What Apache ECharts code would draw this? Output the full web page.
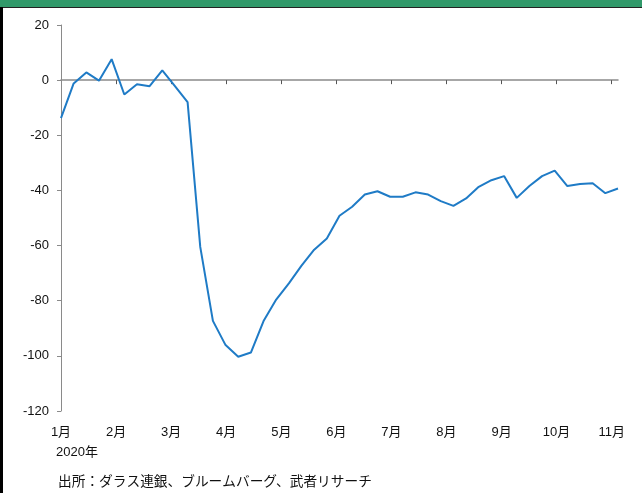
<!DOCTYPE html>
<html>
<head>
<meta charset="utf-8">
<script src="https://cdn.jsdelivr.net/npm/echarts@6/dist/echarts.min.js"></script>
<style>
  html, body { margin: 0; padding: 0; background: #fff; }
  #chart { width: 642px; height: 493px; }
</style>
</head>
<body>
<div id="chart"></div>
<script>
// 週次データ（2020年1月～11月）
const weekValues = [
  -13.8, -1.2, 2.8, -0.2, 7.6, -5.2, -1.5, -2.2, 3.5, -2.2,
  -8.0, -60.5, -87.3, -96.1, -100.3, -98.8, -87.4, -79.6, -73.7, -67.3,
  -61.5, -57.4, -49.2, -45.9, -41.5, -40.3, -42.3, -42.3, -40.7, -41.5,
  -43.9, -45.6, -42.9, -38.7, -36.3, -34.8, -42.7, -38.4, -34.8, -32.8,
  -38.4, -37.7, -37.4, -41.0, -39.3
];
const monthLabels = ['1月', '2月', '3月', '4月', '5月', '6月', '7月', '8月', '9月', '10月', '11月'];
const weeksPerMonth = 4.35;
const yTicks = [20, 0, -20, -40, -60, -80, -100, -120];

const seriesData = weekValues.map((v, i) => [i, v]);
const monthPos = monthLabels.map((m, i) => +(i * weeksPerMonth).toFixed(2));

const font = 'Arial, "Liberation Sans", "Noto Sans CJK JP", sans-serif';
const axisGray = '#8a8a8a';

const chart = echarts.init(document.getElementById('chart'));
chart.setOption({
  animation: false,
  grid: { left: 61, right: 24, top: 25, bottom: 82 },
  xAxis: [
    {
      type: 'value', min: 0, max: weekValues.length - 1,
      axisLine: { onZero: true, lineStyle: { color: axisGray, width: 1.5 } },
      axisTick: { show: true, length: 4, customValues: monthPos.slice(1), lineStyle: { color: '#555' } },
      axisLabel: { show: false },
      splitLine: { show: false }
    },
    {
      type: 'value', min: 0, max: weekValues.length - 1, position: 'bottom',
      axisLine: { show: false, onZero: false },
      axisTick: { show: false },
      splitLine: { show: false },
      axisLabel: {
        customValues: monthPos,
        margin: 15,
        color: '#111', fontSize: 13, fontFamily: font,
        formatter: v => {
          const k = monthPos.findIndex(p => Math.abs(p - v) < 0.01);
          return k >= 0 ? monthLabels[k] : '';
        }
      }
    }
  ],
  yAxis: {
    type: 'value', min: yTicks[yTicks.length - 1], max: yTicks[0], interval: 20,
    axisLine: { show: true, onZero: false, lineStyle: { color: axisGray } },
    axisTick: { show: true, length: 4, lineStyle: { color: axisGray } },
    splitLine: { show: false },
    axisLabel: { margin: 12, color: '#111', fontSize: 13, fontFamily: font }
  },
  series: [{
    type: 'line',
    xAxisIndex: 0,
    data: seriesData,
    symbol: 'none',
    lineStyle: { color: '#1f7bc6', width: 2 }
  }],
  graphic: [
    { type: 'rect', shape: { x: 0, y: 0, width: 642, height: 7 }, style: { fill: '#31996a' } },
    { type: 'rect', shape: { x: 0, y: 7, width: 642, height: 1 }, style: { fill: '#222' } },
    { type: 'rect', shape: { x: 0, y: 7, width: 3, height: 486 }, style: { fill: '#000' } },
    { type: 'text', left: 56, top: 446, style: { text: '2020年', fill: '#111', font: '13px ' + font } },
    { type: 'text', left: 58, top: 474, style: { text: '出所：ダラス連銀、ブルームバーグ、武者リサーチ', fill: '#111', font: '13.7px "Noto Sans CJK JP", sans-serif' } }
  ]
});
</script>
</body>
</html>
